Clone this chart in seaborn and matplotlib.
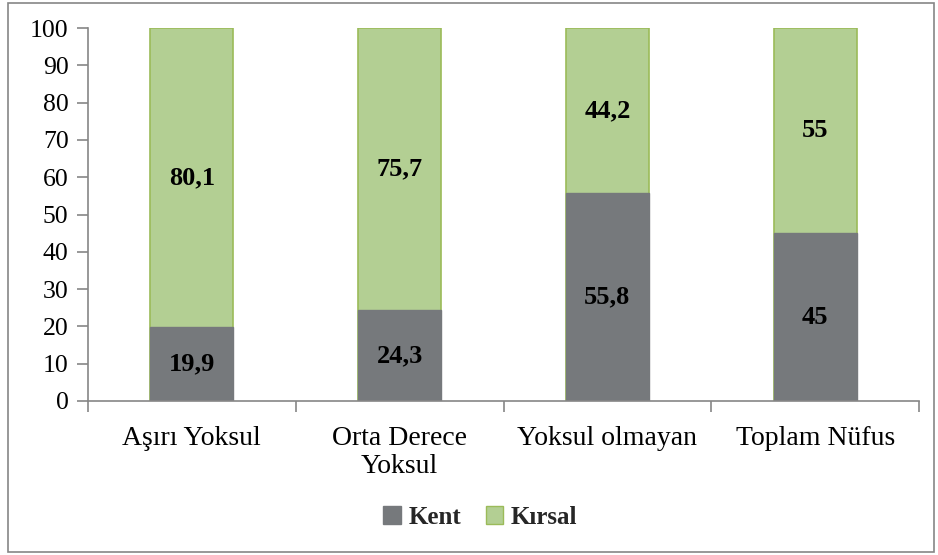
import matplotlib
matplotlib.use("Agg")
import matplotlib.pyplot as plt
import numpy as np
import pandas as pd
import seaborn as sns
from matplotlib.patches import Rectangle, Patch

# --- data ---
categories = ["Aşırı Yoksul", "Orta Derece\nYoksul", "Yoksul olmayan", "Toplam Nüfus"]
kent = [19.9, 24.3, 55.8, 45]
kirsal = [80.1, 75.7, 44.2, 55]
kent_labels = ["19,9", "24,3", "55,8", "45"]
kirsal_labels = ["80,1", "75,7", "44,2", "55"]

grey = "#76797C"
green = "#B3CF93"
green_edge = "#9BBB59"
axis_col = "#868686"

df = pd.DataFrame({"Kategori": categories, "Kent": kent, "Kırsal": kirsal})
df["Toplam"] = df["Kent"] + df["Kırsal"]

sns.set_theme(style="white")
plt.rcParams["font.family"] = ["Liberation Serif", "DejaVu Serif"]

fig = plt.figure(figsize=(9.38, 5.55), dpi=100)
ax = fig.add_axes([0.0938, 0.2775, 0.886, 0.672])

# stacked bars: total in green, kent drawn over it in grey
sns.barplot(data=df, x="Kategori", y="Toplam", color=green, edgecolor=green_edge,
            linewidth=1.2, width=0.4, saturation=1, ax=ax)
sns.barplot(data=df, x="Kategori", y="Kent", color=grey, edgecolor=grey,
            linewidth=1.0, width=0.4, saturation=1, ax=ax)

# value labels
for i in range(len(categories)):
    ax.text(i, kent[i] / 2, kent_labels[i], ha="center", va="center",
            fontsize=19, fontweight="bold", color="black")
    ax.text(i, kent[i] + kirsal[i] / 2, kirsal_labels[i], ha="center", va="center",
            fontsize=19, fontweight="bold", color="black")

ax.set_xlim(-0.5, len(categories) - 0.5)
ax.set_ylim(0, 100)
ax.set_yticks(np.arange(0, 101, 10))
ax.set_xlabel("")
ax.set_ylabel("")

for s in ["top", "right"]:
    ax.spines[s].set_visible(False)
for s in ["left", "bottom"]:
    ax.spines[s].set_visible(True)
    ax.spines[s].set_color(axis_col)
    ax.spines[s].set_linewidth(1.2)

ax.tick_params(axis="y", which="major", left=True, length=8, width=1.2,
               color=axis_col, labelsize=18.5, labelcolor="black", pad=6)
ax.tick_params(axis="x", which="major", bottom=False, labelsize=20,
               labelcolor="black", pad=12)
ax.set_xticks(np.arange(-0.5, len(categories)), minor=True)
ax.tick_params(axis="x", which="minor", bottom=True, length=8, width=1.2,
               color=axis_col, direction="out")
for lbl in ax.get_xticklabels():
    lbl.set_linespacing(1.15)
    lbl.set_verticalalignment("top")

# legend
handles = [Patch(facecolor=grey, edgecolor=grey, label="Kent"),
           Patch(facecolor=green, edgecolor=green_edge, label="Kırsal")]
fig.legend(handles=handles, loc="center", bbox_to_anchor=(0.512, 0.068), ncol=2,
           frameon=False, prop={"weight": "bold", "size": 18},
           handlelength=0.7, handleheight=0.7, handletextpad=0.3, columnspacing=1.0)

# outer frame
fig.patches.append(Rectangle((0.008, 0.005), 0.988, 0.99, transform=fig.transFigure,
                             fill=False, edgecolor=axis_col, linewidth=1.2))

fig.savefig("out.png", dpi=100)
